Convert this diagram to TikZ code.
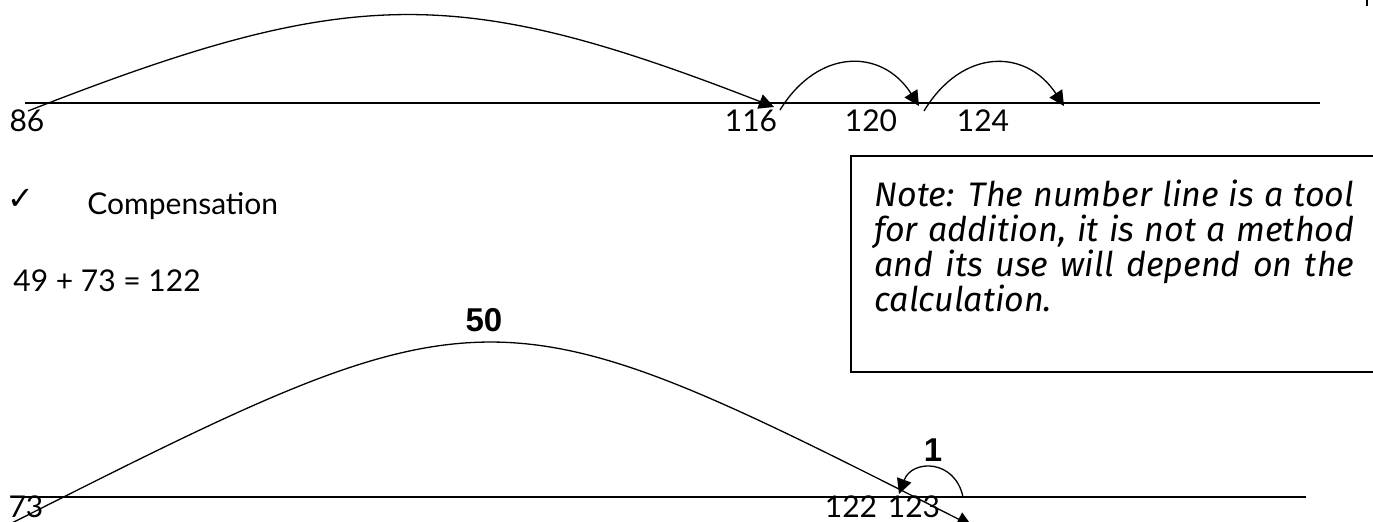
\documentclass[tikz,border=0pt]{standalone}
\usepackage{fontspec}
\setmainfont{Lato}
\newfontfamily\notizfont{Fira Sans}
\newfontfamily\fettfont{Liberation Sans}
\newfontfamily\zeichenfont{DejaVu Sans}
\usetikzlibrary{arrows.meta}

\tikzset{
    zahl/.style={font=\fontsize{15}{18}\selectfont, inner sep=0pt, anchor=base},
    sprung/.style={font=\fettfont\bfseries\fontsize{16.5}{20}\selectfont, inner sep=0pt, anchor=base},
    bogen/.style={line width=0.65pt, -{Triangle[length=7.5pt,width=7.5pt]}},
    achse/.style={line width=0.85pt},
    rahmen/.style={line width=1pt},
    notiz/.style={font=\notizfont\itshape\fontsize{17}{17.5}\selectfont, text width=240pt, align=justify, inner sep=0pt}
}

\begin{document}
\begin{tikzpicture}[x=0.5pt, y=-0.5pt]
    \useasboundingbox (0,0) rectangle (1373,522);

    % Zahlenstrahl oben
    \draw[achse] (25,103) -- (1320,103);
    \coordinate (a86) at (28,111);
    \coordinate (a116) at (774,107);
    \coordinate (b116) at (780,110);
    \coordinate (a120) at (919,106);
    \coordinate (b120) at (924,111);
    \coordinate (a124) at (1064,106);
    \node[zahl] (n86) at (27,132) {86};
    \node[zahl] (n116) at (751,132) {116};
    \node[zahl] (n120) at (871,132) {120};
    \node[zahl] (n124) at (983,132) {124};

    % Spruenge oben
    \draw[bogen] (a86) .. controls (352,-16) and (458,-16) .. (a116);
    \draw[bogen] (b116) .. controls (818,48) and (882,48) .. (a120);
    \draw[bogen] (b120) .. controls (962,48) and (1026,48) .. (a124);

    % Kompensation
    \node[font=\zeichenfont\fontsize{16}{18}\selectfont, inner sep=0pt, anchor=base] (haken) at (21,210) {✓};
    \node[zahl, anchor=base west] (komp) at (87,215) {Compensation};
    \node[zahl, anchor=base west] (aufgabe) at (13,292) {49 + 73 = 122};

    % Notiz
    \draw[rahmen] (1380,156) -| (851,372) -- (1380,372);
    \node[notiz, anchor=north west] (notiz) at (874,180) {Note: The number line is a tool\linebreak for addition, it is not a method\linebreak and its use will depend on the\linebreak calculation.};

    % Zahlenstrahl unten
    \draw[achse] (12,497) -- (1306,497);
    \coordinate (a73) at (8,525);
    \coordinate (a123) at (972,526);
    \coordinate (b123) at (963,497);
    \coordinate (a122) at (899,494);
    \node[zahl] (n73) at (26,518) {73};
    \node[zahl] (n122) at (851,518) {122};
    \node[zahl] (n123) at (914,518) {123};

    % Spruenge unten
    \draw[bogen] (a73) .. controls (490,282) and (490,282) .. (a123);
    \draw[bogen] (b123) .. controls (955,459) and (912,459) .. (a122);
    \node[sprung] (s50) at (484,332) {50};
    \node[sprung] (s1) at (933,462) {1};

    % Rand
    \draw[line width=1pt] (1367,0) -- (1367,6);
\end{tikzpicture}
\end{document}
